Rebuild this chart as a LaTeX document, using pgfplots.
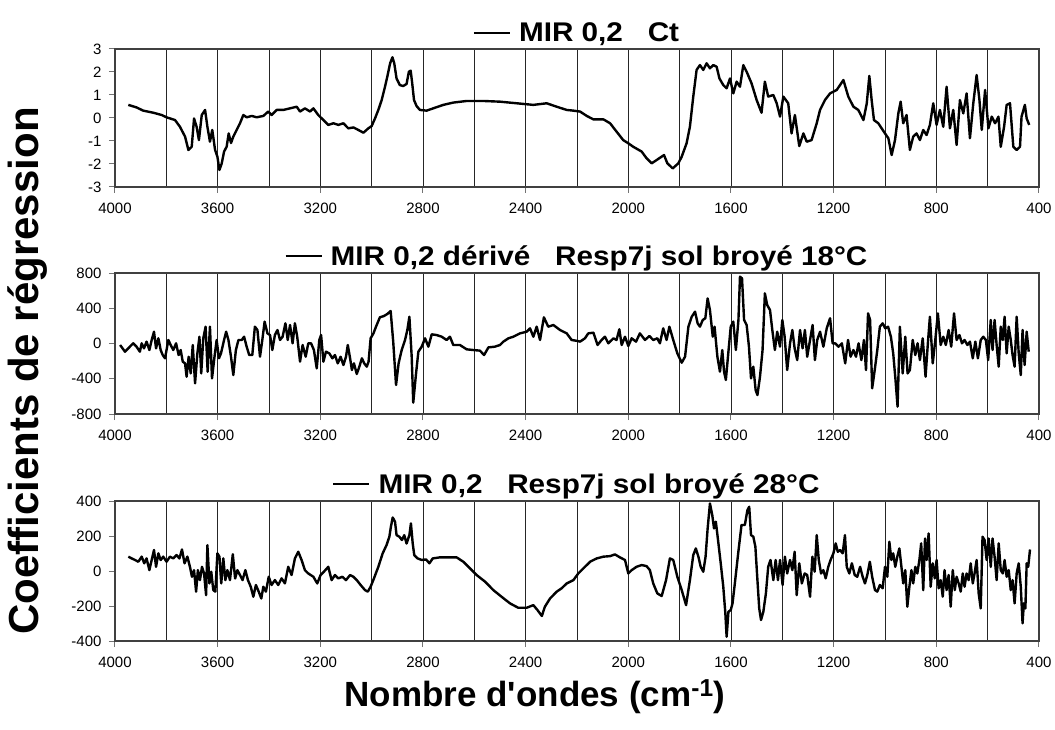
\documentclass[border=0pt]{standalone}
\usepackage{fontspec}
\setmainfont{Liberation Sans}[Ligatures=TeXOff]
\newfontfamily\titlefont[FakeStretch=1.1]{Liberation Sans}
\usepackage{pgfplots}
\pgfplotsset{compat=1.18}

\pgfplotsset{
  specline/.style={black, line width=2.4pt, line join=round, mark=none},
  spectrum/.style={
    scale only axis, width=924pt,
    xmin=400, xmax=4000, x dir=reverse,
    xtick={400,800,...,4000},
    minor xtick={600,1000,...,3800},
    xmajorgrids, xminorgrids,
    major grid style={black!85, line width=0.9pt},
    minor grid style={black!85, line width=0.9pt},
    tick align=outside, xtick pos=left, ytick pos=left,
    major tick length=6pt, minor tick length=0pt,
    tick style={black!55, line width=1pt},
    axis line style={black!75, line width=1.2pt},
    tick label style={font=\fontsize{15}{18}\selectfont},
    xticklabel style={yshift=-6pt},
    yticklabel style={xshift=-4pt},
    /pgf/number format/assume math mode=true,
    /pgf/number format/1000 sep={},
    legend style={at={(0.5,1)}, anchor=south, draw=none, fill=none,
      inner sep=0pt, yshift=4pt, column sep=6pt,
      font=\titlefont\bfseries\fontsize{27}{32}\selectfont},
    legend image code/.code={\draw[black, line width=2.2pt] (0pt,0pt) -- (36pt,0pt);},
  }
}

\begin{document}
\begin{tikzpicture}[x=1pt, y=1pt]
\path[use as bounding box] (0,0) rectangle (1055,729);

% ---------- Ct ----------
\begin{axis}[spectrum, at={(115pt,542pt)}, anchor=south west, height=138pt,
  ymin=-3, ymax=3, ytick={-3,-2,...,3}]
\addplot[specline] coordinates {
(3948,0.57)(3916,0.46)(3890,0.32)(3851,0.23)(3818,0.13)(3799,0.03)(3766,-0.09)
(3747,-0.38)(3727,-0.81)(3714,-1.39)(3701,-1.25)(3692,-0.02)(3682,-0.38)(3673,-0.96)
(3662,0.13)(3649,0.35)(3640,-0.38)(3630,-1.03)(3621,-0.52)(3610,-1.39)(3601,-1.68)
(3593,-2.26)(3584,-1.97)(3575,-1.46)(3565,-1.25)(3557,-0.67)(3548,-1.09)(3539,-0.81)
(3526,-0.52)(3513,-0.23)(3500,0.13)(3487,0.03)(3467,0.09)(3448,0.03)(3422,0.09)
(3403,0.28)(3390,0.13)(3370,0.35)(3344,0.35)(3318,0.42)(3292,0.49)(3279,0.28)
(3260,0.42)(3240,0.28)(3227,0.42)(3208,0.13)(3188,-0.09)(3169,-0.30)(3149,-0.23)
(3130,-0.30)(3110,-0.23)(3091,-0.45)(3071,-0.41)(3052,-0.52)(3032,-0.64)(3013,-0.45)
(3000,-0.35)(2987,-0.02)(2974,0.35)(2961,0.78)(2948,1.36)(2939,1.80)(2928,2.38)
(2919,2.64)(2912,2.38)(2903,1.72)(2890,1.43)(2877,1.39)(2864,1.48)(2855,2.01)
(2848,2.06)(2842,1.51)(2835,0.78)(2825,0.52)(2812,0.35)(2786,0.32)(2760,0.42)
(2721,0.57)(2682,0.67)(2630,0.74)(2565,0.74)(2500,0.71)(2435,0.64)(2370,0.57)
(2318,0.64)(2279,0.49)(2240,0.35)(2214,0.32)(2188,0.28)(2162,0.09)(2136,-0.06)
(2097,-0.06)(2071,-0.23)(2046,-0.59)(2020,-0.96)(2000,-1.10)(1981,-1.25)(1948,-1.46)
(1929,-1.75)(1909,-1.97)(1890,-1.83)(1861,-1.61)(1848,-1.97)(1827,-2.19)(1805,-1.97)
(1792,-1.68)(1773,-1.10)(1760,-0.38)(1747,0.93)(1734,2.09)(1721,2.30)(1708,2.09)
(1695,2.38)(1682,2.16)(1669,2.30)(1656,2.23)(1645,1.72)(1630,1.43)(1617,1.29)
(1604,1.72)(1591,1.07)(1578,1.58)(1565,1.36)(1552,2.30)(1539,2.01)(1520,1.51)
(1500,0.78)(1481,0.23)(1468,1.58)(1455,0.93)(1435,1.00)(1422,0.64)(1409,0.06)
(1396,0.93)(1377,0.64)(1364,-0.67)(1351,0.13)(1334,-1.22)(1318,-0.67)(1305,-1.03)
(1286,-0.96)(1266,-0.23)(1253,0.35)(1234,0.78)(1214,1.07)(1188,1.22)(1162,1.65)
(1143,0.93)(1123,0.49)(1104,0.35)(1084,-0.09)(1071,0.64)(1061,1.83)(1052,0.78)
(1043,-0.09)(1026,-0.23)(1013,-0.45)(1000,-0.67)(987,-0.88)(974,-1.61)(961,-0.96)
(948,0.20)(939,0.71)(929,-0.23)(916,0.13)(903,-1.39)(890,-0.81)(877,-0.67)
(864,-0.96)(851,-0.52)(838,-0.74)(825,-0.30)(812,0.64)(799,-0.30)(786,0.35)
(773,-0.38)(760,1.36)(747,-0.45)(734,0.35)(721,-1.17)(708,0.78)(695,0.20)
(682,1.07)(669,-0.88)(656,0.64)(643,1.87)(632,0.78)(623,-0.52)(610,1.22)
(597,-0.45)(584,0.06)(571,-0.23)(558,0.06)(549,-1.25)(536,-0.38)(526,0.57)
(513,0.64)(500,-1.25)(487,-1.39)(474,-1.25)(468,0.06)(455,0.57)(448,-0.02)(438,-0.30)
};
\addlegendentry{MIR 0,2\ \ \ Ct}
\end{axis}

% ---------- Resp7j 18 °C ----------
\begin{axis}[spectrum, at={(115pt,315pt)}, anchor=south west, height=141pt,
  ymin=-800, ymax=800, ytick={-800,-400,...,800}]
\addplot[specline] coordinates {
(3980,-17)(3961,-93)(3942,-36)(3929,2)(3916,-36)(3903,-93)(3896,2)(3887,-55)
(3877,21)(3866,-74)(3857,40)(3848,134)(3840,-55)(3831,59)(3822,-74)(3814,-131)
(3805,-168)(3792,40)(3783,-17)(3773,-74)(3762,2)(3752,-131)(3744,-74)(3736,-206)
(3727,-225)(3721,-377)(3713,-150)(3705,-339)(3697,-17)(3688,-452)(3679,-112)
(3671,77)(3664,-339)(3656,59)(3647,191)(3639,-320)(3630,191)(3622,-396)(3613,-168)
(3604,40)(3595,-168)(3587,-112)(3575,40)(3567,134)(3558,40)(3548,-150)(3539,-358)
(3529,-74)(3519,40)(3506,40)(3497,77)(3487,-36)(3477,-131)(3465,-131)(3455,191)
(3445,153)(3435,-150)(3426,40)(3417,248)(3406,115)(3396,96)(3387,-74)(3377,96)
(3367,153)(3357,40)(3347,77)(3336,229)(3327,40)(3318,210)(3308,2)(3299,229)
(3290,77)(3279,-206)(3269,-17)(3257,-150)(3247,2)(3236,2)(3225,-74)(3214,-282)
(3204,40)(3197,96)(3188,-206)(3178,-93)(3165,-112)(3153,-168)(3143,-131)(3132,-225)
(3121,-150)(3110,-244)(3100,-150)(3093,-17)(3084,-168)(3077,-301)(3069,-225)
(3058,-346)(3048,-263)(3038,-168)(3029,-225)(3019,-263)(3012,-206)(3004,59)
(2993,115)(2983,191)(2968,297)(2952,312)(2939,335)(2926,369)(2916,21)(2905,-471)
(2895,-225)(2883,-74)(2870,40)(2861,153)(2853,304)(2844,-150)(2838,-672)(2827,-339)
(2818,-93)(2805,-36)(2792,59)(2779,-36)(2766,104)(2747,96)(2727,77)(2708,40)
(2695,77)(2682,-17)(2656,-17)(2630,-66)(2604,-74)(2578,-81)(2562,-131)(2545,-44)
(2520,-36)(2500,-17)(2487,21)(2467,59)(2448,77)(2422,115)(2396,134)(2383,172)
(2370,77)(2357,191)(2344,40)(2329,297)(2312,191)(2292,210)(2266,153)(2240,115)
(2221,40)(2200,30)(2188,21)(2169,59)(2156,115)(2136,123)(2120,-17)(2104,40)
(2091,77)(2078,2)(2058,59)(2046,40)(2035,161)(2026,-17)(2013,77)(2000,-28)
(1987,59)(1970,21)(1955,115)(1935,40)(1918,85)(1903,40)(1887,59)(1877,2)
(1864,172)(1851,40)(1840,191)(1825,40)(1809,-112)(1792,-218)(1779,-150)(1766,191)
(1753,304)(1740,361)(1730,229)(1721,191)(1710,267)(1700,286)(1691,512)(1682,380)
(1671,77)(1664,191)(1653,-150)(1643,-320)(1634,-74)(1627,-320)(1620,-414)(1610,-93)
(1601,191)(1591,248)(1581,-74)(1571,267)(1565,758)(1557,739)(1549,267)(1539,210)
(1530,-36)(1522,-396)(1513,-263)(1504,-528)(1497,-585)(1487,-377)(1477,-74)
(1468,569)(1459,437)(1448,380)(1439,153)(1429,-74)(1420,134)(1409,-36)(1400,267)
(1391,77)(1381,-301)(1370,2)(1361,153)(1352,-55)(1342,-188)(1331,153)(1321,-55)
(1312,153)(1303,-150)(1292,40)(1282,210)(1273,-188)(1264,40)(1253,134)(1240,-36)
(1227,172)(1214,286)(1204,2)(1194,2)(1181,-36)(1168,2)(1155,-225)(1144,40)
(1134,-150)(1123,-74)(1113,-150)(1103,2)(1092,-188)(1082,40)(1074,-301)(1066,342)
(1058,267)(1050,-509)(1040,-301)(1030,-74)(1020,191)(1009,229)(999,172)(988,191)
(977,77)(968,-112)(959,-414)(951,-717)(942,191)(931,-339)(921,77)(912,-339)
(903,-301)(892,40)(882,-131)(873,2)(864,-188)(853,59)(842,-377)(832,40)(825,304)
(814,-225)(804,40)(794,342)(783,-17)(773,77)(763,-17)(752,153)(742,-36)(731,342)
(721,40)(710,96)(700,2)(690,40)(679,-17)(669,21)(658,-168)(648,21)(638,-168)
(627,40)(617,77)(607,40)(598,-188)(588,267)(581,-74)(573,267)(565,-17)(557,-263)
(549,191)(541,40)(534,304)(526,-112)(518,191)(510,40)(503,-131)(495,-263)(487,304)
(479,-112)(471,-358)(464,153)(456,-244)(448,134)(440,-93)
};
\addlegendentry{MIR 0,2 dérivé\ \ \ Resp7j sol broyé 18°C}
\end{axis}

% ---------- Resp7j 28 °C ----------
\begin{axis}[spectrum, at={(115pt,88pt)}, anchor=south west, height=140pt,
  ymin=-400, ymax=400, ytick={-400,-200,...,400}]
\addplot[specline] coordinates {
(3948,82)(3935,72)(3922,63)(3909,53)(3896,82)(3886,44)(3877,72)(3866,5)(3857,63)
(3848,120)(3840,24)(3831,101)(3822,63)(3812,82)(3799,53)(3786,82)(3773,72)(3760,91)
(3749,72)(3739,123)(3729,44)(3718,82)(3708,24)(3700,-33)(3692,5)(3684,-118)(3677,5)
(3669,-52)(3661,24)(3653,-14)(3645,-138)(3640,148)(3632,-71)(3625,-4)(3617,-109)
(3609,-118)(3601,101)(3593,82)(3586,-71)(3578,72)(3570,-52)(3562,5)(3552,-52)
(3541,96)(3532,-43)(3523,5)(3513,-23)(3503,-52)(3492,5)(3482,-52)(3471,-90)
(3461,-147)(3451,-80)(3440,-118)(3430,-157)(3422,-90)(3412,-118)(3401,-33)(3390,-80)
(3377,-52)(3364,-80)(3351,-42)(3338,-71)(3325,24)(3312,-23)(3299,72)(3286,110)
(3273,63)(3260,5)(3247,-14)(3227,-33)(3212,-71)(3199,-23)(3186,-4)(3169,24)
(3156,-52)(3143,-23)(3130,-42)(3114,-33)(3100,-52)(3084,-23)(3071,-33)(3058,-52)
(3043,-80)(3026,-109)(3015,-118)(3004,-90)(2991,-42)(2974,24)(2957,101)(2942,148)
(2931,196)(2925,253)(2918,306)(2909,282)(2903,205)(2892,196)(2882,177)(2873,205)
(2864,157)(2853,205)(2847,272)(2840,157)(2834,91)(2821,72)(2805,63)(2788,66)
(2775,44)(2762,72)(2734,78)(2701,78)(2669,78)(2643,53)(2617,15)(2591,-23)
(2558,-61)(2526,-109)(2494,-147)(2461,-185)(2429,-210)(2396,-210)(2370,-195)
(2354,-223)(2337,-257)(2325,-204)(2305,-157)(2279,-118)(2260,-99)(2240,-71)
(2214,-52)(2195,-14)(2175,15)(2149,53)(2123,72)(2097,82)(2071,85)(2052,95)
(2033,78)(2013,63)(2000,-14)(1987,5)(1968,24)(1948,34)(1929,28)(1916,5)(1903,-71)
(1887,-128)(1870,-143)(1853,-52)(1838,72)(1825,63)(1809,-33)(1792,-109)(1775,-195)
(1760,-52)(1747,91)(1737,129)(1727,82)(1718,24)(1708,-4)(1699,82)(1691,243)
(1682,386)(1673,320)(1666,243)(1659,282)(1649,158)(1640,44)(1630,-90)(1622,-242)
(1617,-376)(1610,-233)(1601,-223)(1594,-185)(1585,-71)(1572,101)(1559,263)
(1546,263)(1536,348)(1529,367)(1522,205)(1513,196)(1505,139)(1497,-52)(1490,-214)
(1483,-280)(1474,-233)(1464,-128)(1455,24)(1446,63)(1435,-52)(1426,63)(1417,-52)
(1409,63)(1399,-80)(1390,82)(1381,-14)(1370,63)(1361,5)(1352,110)(1344,-138)
(1334,44)(1324,-71)(1313,-14)(1303,-23)(1292,-147)(1283,82)(1274,-4)(1266,205)
(1258,63)(1249,-14)(1240,5)(1231,-42)(1221,24)(1212,63)(1201,101)(1192,158)
(1184,110)(1175,120)(1165,101)(1156,205)(1149,24)(1139,-14)(1129,44)(1118,-23)
(1108,-33)(1097,24)(1087,-33)(1078,-71)(1069,-23)(1059,53)(1050,-33)(1039,-109)
(1030,-118)(1020,-80)(1009,-99)(1000,24)(991,-33)(983,167)(975,63)(968,101)
(960,24)(952,82)(944,129)(936,24)(929,-71)(921,5)(913,-204)(905,-90)(897,5)
(890,-71)(882,24)(874,-14)(866,63)(859,158)(851,-109)(844,186)(838,63)(830,215)
(822,-90)(814,44)(806,-42)(799,63)(791,-99)(783,-52)(775,-147)(768,5)(760,-109)
(752,-23)(744,-204)(736,5)(728,-109)(721,-33)(713,-71)(705,-118)(697,-14)(690,-90)
(682,-14)(674,-52)(666,44)(658,-71)(651,-14)(643,63)(635,-128)(627,-214)(620,196)
(612,177)(604,63)(596,186)(588,24)(581,186)(573,82)(565,-52)(557,158)(549,5)
(541,-14)(534,63)(526,-33)(518,5)(510,-109)(503,-52)(495,-185)(487,-14)(479,44)
(471,-90)(464,-299)(459,-185)(453,-214)(448,44)(442,24)(435,123)
};
\addlegendentry{MIR 0,2\ \ \ Resp7j sol broyé 28°C}
\end{axis}

% axis titles shared by the three panels
\node[rotate=90, font=\bfseries\fontsize{42}{48}\selectfont] at (28,358)
  {Coefficients de régression};
\node[anchor=base, font=\bfseries\fontsize{35}{40}\selectfont] at (535,23)
  {Nombre d'ondes (cm\textsuperscript{-1})};
\end{tikzpicture}
\end{document}
